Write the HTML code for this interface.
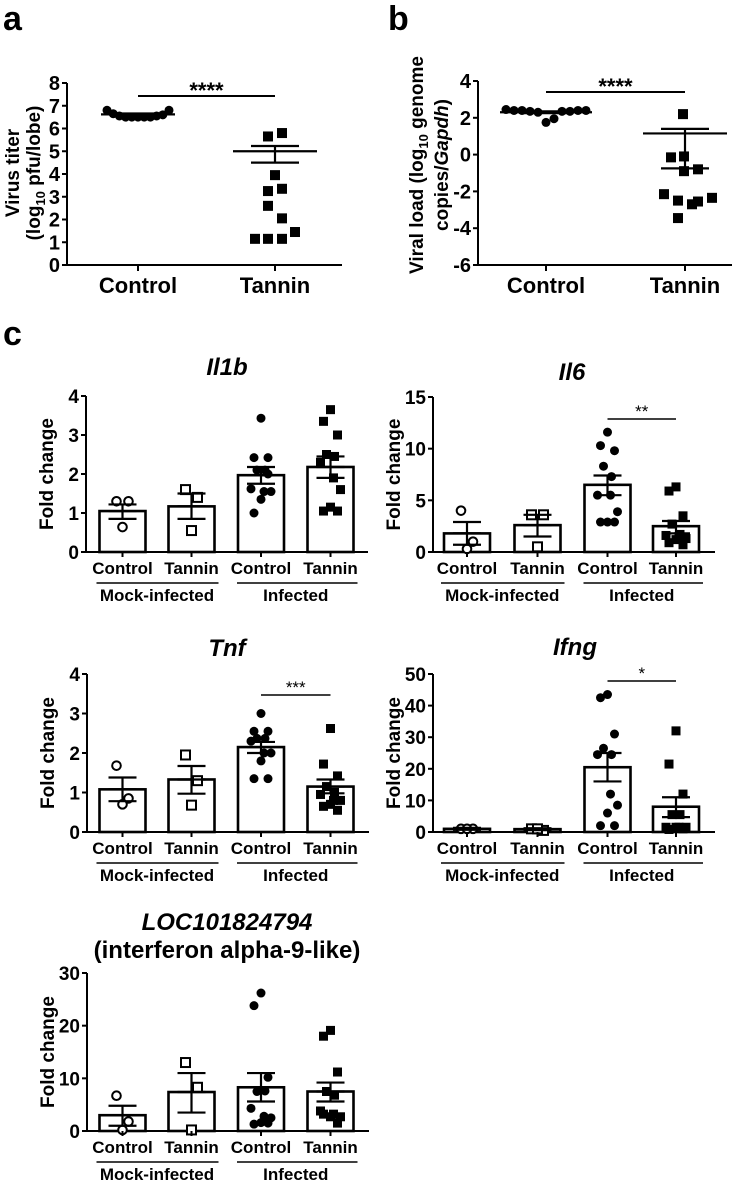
<!DOCTYPE html>
<html><head><meta charset="utf-8"><style>
body{margin:0;background:#fff}
svg{display:block;font-family:"Liberation Sans",Arial,sans-serif;font-weight:bold}
</style></head><body>
<svg id="fig" width="755" height="1181" viewBox="0 0 755 1181"></svg>
<script>
// ---- panel a data ----
const aCategories=["Control","Tannin"];
const aControl=[6.8,6.65,6.55,6.5,6.5,6.5,6.5,6.5,6.55,6.6,6.8];
const aTannin=[5.65,5.8,3.95,3.25,3.35,2.6,2.05,1.15,1.15,1.15,1.45];
const aMeans=[6.62,5.0];
const aSemLo=[6.58,4.5];
const aSemHi=[6.66,5.23];
const aTicks=[0,1,2,3,4,5,6,7,8];
// ---- panel b data ----
const bControl=[2.45,2.4,2.4,2.35,2.3,1.75,1.95,2.35,2.35,2.4,2.4];
const bTannin=[2.2,-0.15,-0.1,-0.9,-0.8,-2.15,-2.5,-2.7,-2.55,-2.35,-3.45];
const bMeans=[2.3,1.15];
const bSemLo=[2.25,-0.75];
const bSemHi=[2.35,1.4];
const bTicks=[-6,-4,-2,0,2,4];
// ---- panel c data ----
const cGroups=["Control","Tannin","Control","Tannin"];
const il1bMeans=[1.05,1.17,1.97,2.18], il1bLo=[0.85,0.85,1.75,1.9], il1bHi=[1.22,1.5,2.18,2.45];
const il1bPts=[[1.3,1.3,0.64],[1.6,1.4,0.55],[3.43,2.42,2.42,2.1,2.1,1.62,1.55,1.55,1.35,1.0,2.0],[3.65,3.35,3.0,2.5,2.45,2.3,1.9,1.6,1.15,1.05,1.05]];
const il6Means=[1.8,2.6,6.5,2.5], il6Lo=[0.7,1.5,5.5,1.8], il6Hi=[2.9,3.6,7.4,3.0];
const il6Pts=[[4.0,1.0,0.3],[3.6,3.6,0.5],[11.6,10.3,9.8,8.3,7.3,5.5,5.5,3.9,2.9,2.9,2.9],[6.3,5.9,3.5,2.7,1.7,1.6,1.5,1.3,1.2,0.9,0.7]];
const tnfMeans=[1.08,1.33,2.15,1.15], tnfLo=[0.78,0.97,2.0,0.98], tnfHi=[1.38,1.67,2.28,1.33];
const tnfPts=[[1.68,0.85,0.7],[1.95,1.3,0.68],[3.0,2.55,2.55,2.37,2.37,2.3,2.0,2.0,1.8,1.35,1.35],[2.62,1.72,1.42,1.15,1.0,0.95,0.8,0.8,0.7,0.65,0.55]];
const ifngMeans=[1.0,0.9,20.5,8.0], ifngLo=[0.7,0.6,16,4.7], ifngHi=[1.3,1.2,25,11];
const ifngPts=[[1,1,1],[1,0.5,1],[43.5,42.5,31,26.5,24.5,24.5,12,8.5,6,2,2],[32,21.5,12,5.5,5.5,1.5,1.5,1.5,1.5,0.8,1]];
const locMeans=[3.0,7.4,8.3,7.5], locLo=[1.0,3.5,5.6,5.6], locHi=[4.8,11,11,9.2];
const locPts=[[6.7,1.8,0.2],[13,8.3,0.2],[26.2,23.8,10.2,7.5,7.6,4.3,2.8,2.5,1.6,1.3,1.5],[19.1,18,11.2,7.5,6.8,3.8,3.2,2.7,2.7,3.2,1.5]];
const il1bTicks=[0,1,2,3,4], il6Ticks=[0,5,10,15], tnfTicks=[0,1,2,3,4], ifngTicks=[0,10,20,30,40,50], locTicks=[0,10,20,30];

const NS="http://www.w3.org/2000/svg";
const fig=document.getElementById('fig');
function mk(tag,attrs,parent,text){const e=document.createElementNS(NS,tag);for(const k in attrs)e.setAttribute(k,attrs[k]);if(text!==undefined)e.textContent=text;(parent||fig).appendChild(e);return e;}
function line(x1,y1,x2,y2,w,p){return mk('line',{x1,y1,x2,y2,stroke:'#000','stroke-width':w||2},p);}
function txt(x,y,s,size,p,anchor,extra){const t=mk('text',Object.assign({x,y,'font-size':size,'text-anchor':anchor||'middle'},extra||{}),p,s);return t;}
function offs(n,k){
  if(n===3) return [-6,6,0][k];
  const pattern=[0,-7,7,-4,4,-10,3,10,0,-7,7];return pattern[k%pattern.length];
}

let el;
el=txt(3,30,'a',34,null,'start');


el=txt(388,30,'b',34,null,'start');


el=txt(3,345,'c',34,null,'start');



function scatterPanel(o){
  const g=mk('g',{});
  
  
  const yv=v=>o.y0-(v-o.min)/(o.max-o.min)*(o.y0-o.yTop);
  line(o.ax,o.yTop,o.ax,o.y0,2,g);
  line(o.ax,o.y0,o.xEnd,o.y0,2,g);
  o.ticks.forEach(t=>{const y=yv(t);line(o.ax-5,y,o.ax,y,2,g);
    const tl=txt(o.ax-7,y+7,String(t),20,g,'end');
    
    });
  o.cx.forEach((cx,i)=>{line(cx,o.y0,cx,o.y0+6,2,g);
    const cl=txt(cx,o.y0+28,aCategories[i],22,g);
    
    });
  const c=o.ctrl, n=c.length;
  c.forEach((v,k)=>{const x=o.cx[0]-o.spread+k*(2*o.spread/(n-1));
    const p=mk('circle',{cx:x,cy:yv(v),r:4.5,fill:'#000'},g);
    
    });
  o.tan.forEach((v,k)=>{const x=o.cx[1]+o.tx[k];
    const p=mk('rect',{x:x-5,y:yv(v)-5,width:10,height:10,fill:'#000'},g);
    
    });
  [0,1].forEach(i=>{const cx=o.cx[i];const mw=i===0?o.spread+6:42;
    line(cx-mw,yv(o.means[i]),cx+mw,yv(o.means[i]),2.2,g);
    line(cx,yv(o.lo[i]),cx,yv(o.hi[i]),2.2,g);
    line(cx-24,yv(o.lo[i]),cx+24,yv(o.lo[i]),2.2,g);
    line(cx-24,yv(o.hi[i]),cx+24,yv(o.hi[i]),2.2,g);});
  line(o.cx[0],o.sigY,o.cx[1],o.sigY,2,g);
  txt((o.cx[0]+o.cx[1])/2,o.sigY+2,'****',22,g);
  return {g,yv};
}
const pa=scatterPanel({name:'panel-a-virus-titer',ax:67,xEnd:342,y0:265,yTop:83,min:0,max:8,ticks:aTicks,cx:[138,275],
  ctrl:aControl,tan:aTannin,means:aMeans,lo:aSemLo,hi:aSemHi,spread:31,tx:[-7,7,0,-7,7,-7,7,-20,-7,7,20],sigY:96});
let yl=mk('text',{transform:'translate(19,173) rotate(-90)','font-size':19,'text-anchor':'middle'},pa.g,'Virus titer');


yl=mk('text',{transform:'translate(40,173) rotate(-90)','font-size':19,'text-anchor':'middle'},pa.g);
yl.innerHTML='(log<tspan font-size="13" dy="5">10</tspan><tspan dy="-5"> pfu/lobe)</tspan>';



const pb=scatterPanel({name:'panel-b-viral-load',ax:478,xEnd:732,y0:265,yTop:81,min:-6,max:4,ticks:bTicks,cx:[546,685],
  ctrl:bControl,tan:bTannin,means:bMeans,lo:bSemLo,hi:bSemHi,spread:40,tx:[-2,-14,-1,-1,13,-21,-7,7,13,27,-7],sigY:92});
yl=mk('text',{transform:'translate(423,165) rotate(-90)','font-size':19,'text-anchor':'middle'},pb.g);
yl.innerHTML='Viral load (log<tspan font-size="13" dy="5">10</tspan><tspan dy="-5"> genome</tspan>';


yl=mk('text',{transform:'translate(448,165) rotate(-90)','font-size':19,'text-anchor':'middle'},pb.g);
yl.innerHTML='copies/<tspan font-style="italic">Gapdh</tspan>)';



function barPanel(o){
  const g=mk('g',{});
  
  
  const yv=v=>o.y0-(v/o.max)*(o.y0-o.yTop);
  const cx=o.cx;
  o.title.forEach((t,i)=>{const tt=txt(o.tx,o.ty+i*28,t,24,g,'middle',i===0?{'font-style':'italic'}:{});
    
    });
  o.means.forEach((m,i)=>{const b=mk('rect',{x:cx[i]-23,y:yv(m),width:46,height:o.y0-yv(m),fill:'#fff',stroke:'#000','stroke-width':2.6},g);
    
    });
  line(o.ax,o.yTop,o.ax,o.y0,2,g);
  line(o.ax,o.y0,o.ax+282,o.y0,2,g);
  o.ticks.forEach(t=>{const y=yv(t);line(o.ax-5,y,o.ax,y,2,g);
    const tl=txt(o.ax-7,y+7,String(t),19,g,'end');
    
    });
  const ylab=mk('text',{transform:`translate(${o.ax-33},${(o.y0+o.yTop)/2}) rotate(-90)`,'font-size':19,'text-anchor':'middle'},g,'Fold change');
  
  
  o.pts.forEach((arr,i)=>{arr.forEach((v,k)=>{const x=cx[i]+offs(arr.length,k),y=yv(v);let p;
    const open=i<2;
    if(i%2===0)p=mk('circle',{cx:x,cy:y,r:open?4.3:4.5,fill:open?'#fff':'#000',stroke:'#000','stroke-width':open?2:0},g);
    else p=mk('rect',{x:x-4.5,y:y-4.5,width:9,height:9,fill:open?'#fff':'#000',stroke:'#000','stroke-width':open?2:0},g);
    
    });});
  o.means.forEach((m,i)=>{line(cx[i]-14,yv(m),cx[i]+14,yv(m),2.2,g);
    line(cx[i],yv(o.lo[i]),cx[i],yv(o.hi[i]),2.2,g);
    line(cx[i]-14,yv(o.lo[i]),cx[i]+14,yv(o.lo[i]),2.2,g);
    line(cx[i]-14,yv(o.hi[i]),cx[i]+14,yv(o.hi[i]),2.2,g);
    line(cx[i],o.y0,cx[i],o.y0+5,2,g);
    const cl=txt(cx[i],o.y0+22,o.groups[i],17,g);
    
    });
  line(cx[0]-26,o.y0+31,cx[1]+27,o.y0+31,1.5,g);
  line(cx[2]-24,o.y0+31,cx[3]+27,o.y0+31,1.5,g);
  let gl=txt((cx[0]+cx[1])/2,o.y0+49,'Mock-infected',17,g);
  
  
  gl=txt((cx[2]+cx[3])/2,o.y0+49,'Infected',17,g);
  
  
  if(o.sig){line(cx[2],o.sigY,cx[3],o.sigY,1.5,g);
    const st=txt((cx[2]+cx[3])/2,o.sigY-2,o.sig,17,g,'middle',{'font-weight':'normal'});
    
    }
}
const L=[122.5,191.5,261,330.5], R=[467,537.5,607.5,676];
barPanel({name:'chart-il1b',ax:86,y0:552,yTop:396,max:4,ticks:il1bTicks,cx:L,groups:cGroups,means:il1bMeans,lo:il1bLo,hi:il1bHi,pts:il1bPts,title:['Il1b'],tx:227,ty:375});
barPanel({name:'chart-il6',ax:433,y0:552,yTop:397,max:15,ticks:il6Ticks,cx:R,groups:cGroups,means:il6Means,lo:il6Lo,hi:il6Hi,pts:il6Pts,title:['Il6'],tx:572,ty:380,sig:'**',sigY:419});
barPanel({name:'chart-tnf',ax:87,y0:832,yTop:674,max:4,ticks:tnfTicks,cx:L,groups:cGroups,means:tnfMeans,lo:tnfLo,hi:tnfHi,pts:tnfPts,title:['Tnf'],tx:227,ty:656,sig:'***',sigY:695});
barPanel({name:'chart-ifng',ax:433,y0:832,yTop:674,max:50,ticks:ifngTicks,cx:R,groups:cGroups,means:ifngMeans,lo:ifngLo,hi:ifngHi,pts:ifngPts,title:['Ifng'],tx:575,ty:655,sig:'*',sigY:681});
barPanel({name:'chart-loc101824794',ax:87,y0:1131,yTop:973,max:30,ticks:locTicks,cx:L,groups:cGroups,means:locMeans,lo:locLo,hi:locHi,pts:locPts,title:['LOC101824794','(interferon alpha-9-like)'],tx:227,ty:930});
</script>
</body></html>
